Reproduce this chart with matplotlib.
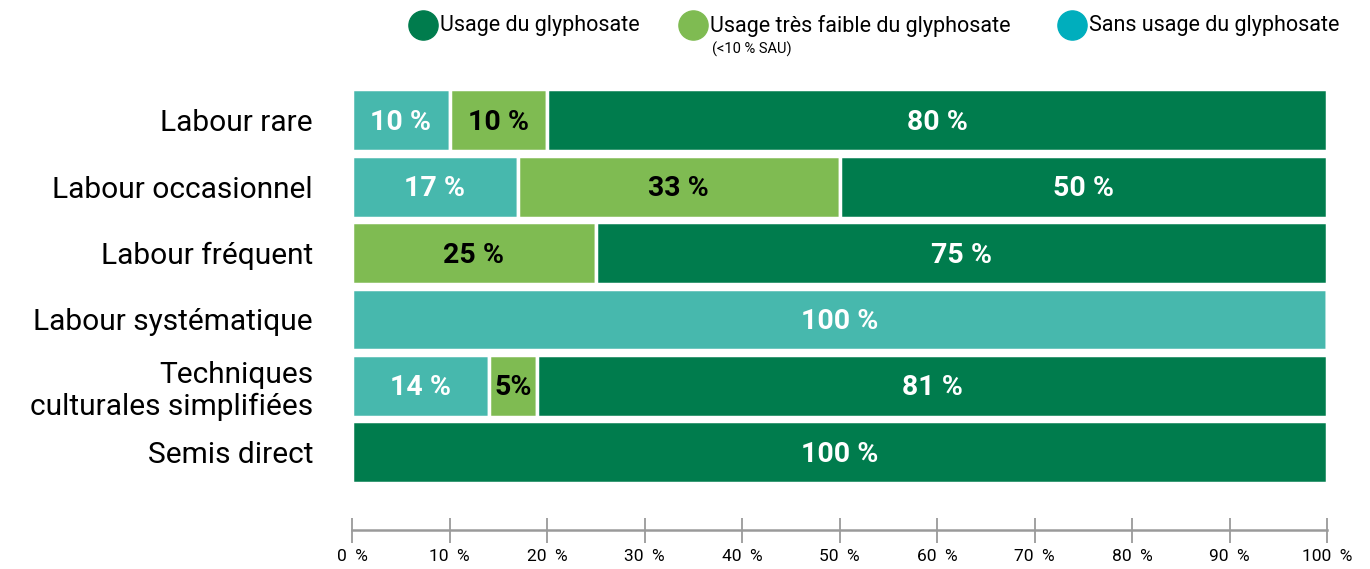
import numpy as np
import matplotlib.pyplot as plt
from matplotlib.lines import Line2D

# data
categories = ["Labour rare", "Labour occasionnel", "Labour fréquent",
              "Labour systématique", "Techniques\nculturales simplifiées",
              "Semis direct"]
sans_usage = [10, 17, 0, 100, 14, 0]
tres_faible = [10, 33, 25, 0, 5, 0]
usage = [80, 50, 75, 0, 81, 100]
series_names = ["Usage du glyphosate", "Usage très faible du glyphosate",
                "Sans usage du glyphosate"]
x_ticks = [0, 10, 20, 30, 40, 50, 60, 70, 80, 90, 100]

plt.rcParams['font.family'] = ['Roboto', 'DejaVu Sans']

DARK = '#007C4D'
LIGHT = '#7FBB52'
TEAL = '#47B8AD'
CYAN = '#00AEBD'

fig = plt.figure(figsize=(13.7, 5.69), dpi=100)
ax = fig.add_axes([352 / 1370, 1 - 530 / 569, (1327 - 352) / 1370, (530 - 87) / 569])

y = np.arange(len(categories))
left = np.zeros(len(categories))
segments = [(sans_usage, TEAL, 'white'), (tres_faible, LIGHT, 'black'), (usage, DARK, 'white')]
for vals, color, tcolor in segments:
    vals = np.array(vals, dtype=float)
    ax.barh(y, vals, left=left, height=0.93, color=color, edgecolor='white', linewidth=2.5)
    for yi, (l, v) in enumerate(zip(left, vals)):
        if v > 0:
            lab = f"{int(v)}%" if v < 8 else f"{int(v)} %"
            ax.text(l + v / 2, yi + 0.03, lab, ha='center', va='center', color=tcolor,
                    fontsize=20.5, fontweight='bold')
    left += vals

ax.set_xlim(0, 100)
ax.set_ylim(6.17, -0.5)
ax.set_yticks(y)
ax.set_yticklabels(categories, fontsize=21.5, linespacing=1.2)
ax.tick_params(axis='y', length=0, pad=28)
ax.set_xticks(x_ticks)
ax.set_xticklabels([f"{t}  %" for t in x_ticks], fontsize=12.5)
ax.tick_params(axis='x', direction='inout', length=18, width=1.3, color='#9a9a9a', pad=5)
for s in ['top', 'right', 'left']:
    ax.spines[s].set_visible(False)
ax.spines['bottom'].set_color('#9a9a9a')
ax.spines['bottom'].set_linewidth(1.8)

# legend drawn by hand
H, W = 569, 1370
leg = [(423, series_names[0], DARK), (693, series_names[1], LIGHT), (1072, series_names[2], CYAN)]
for cx, name, col in leg:
    fig.add_artist(Line2D([cx / W], [1 - 25 / H], marker='o', markersize=21,
                          color=col, linestyle='none', transform=fig.transFigure))
    fig.text((cx + 17) / W, 1 - 26 / H, name, ha='left', va='center', fontsize=15.5)
fig.text(712 / W, 1 - 49 / H, "(<10 % SAU)", ha='left', va='center', fontsize=10.5)

fig.savefig('out.png', dpi=100)
